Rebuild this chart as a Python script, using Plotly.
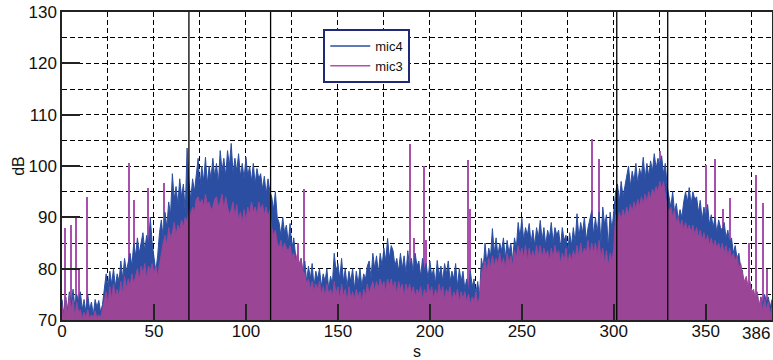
import plotly.graph_objects as go

# time axis (s), 1-second sampling of the level traces
t = list(range(0, 387))

mic4 = [74, 71, 74.5, 72, 75.5, 73, 76, 72.5, 75, 73.5,
        75.5, 72, 74, 71.5, 75, 72, 73.5, 71, 74, 72.5,
        73.8, 71.5, 73, 76, 79, 76.5, 79.5, 77, 80, 76.5,
        79, 77.5, 81.5, 78, 82, 79.5, 81, 83, 80.5, 85,
        82.5, 86, 83, 85.5, 87, 83.5, 86.5, 84.5, 90, 85,
        82, 79.5, 82.5, 87, 89.5, 86, 91, 88, 93, 90.5,
        98.5, 93.5, 96, 92.5, 97.5, 94, 96.5, 91, 103.5, 97,
        93.5, 97.5, 95, 98, 101.5, 96, 100, 97, 101.7, 96.5,
        100, 97.5, 101.5, 98, 100.5, 96.5, 103, 99, 101.5, 98,
        103, 100, 104.4, 98.5, 101.5, 99, 102.4, 98, 100.5, 97.5,
        101.7, 98, 100, 97, 100.5, 96.5, 99.5, 97.5, 98.5, 95.5,
        98, 94.5, 97.5, 95, 94, 91.5, 95, 90, 89, 86.5,
        90, 87, 88.5, 85, 88.8, 84, 86, 82.5, 81, 79,
        82, 78.5, 81.5, 77.5, 80.5, 78, 81, 76.5, 79.5, 78,
        80, 76.5, 79, 77.5, 80, 76, 78.5, 77, 83, 79.5,
        81, 78, 82, 77.5, 80, 76.5, 79.5, 77.5, 80, 76,
        79.5, 77, 80, 76.5, 79, 78, 80.5, 81.5, 78, 83,
        80, 82.5, 79, 83, 80.5, 84, 81.5, 85.9, 82, 84.5,
        83.5, 80.5, 82, 79.5, 83, 80, 82.5, 79, 83.5, 80,
        82, 79, 83, 80.5, 81.5, 78.5, 82, 79.5, 81, 78,
        81.5, 78.5, 80, 77, 81.6, 78.5, 80.5, 77.5, 81, 79,
        81.5, 77.5, 79.5, 78, 81, 76.5, 80, 77.5, 79.5, 76,
        78, 75.5, 79.6, 76.5, 78, 75, 77.5, 74.5, 82, 80,
        85, 81, 84, 82.5, 87.8, 83, 86, 82.5, 85, 83.5,
        86, 82, 85.5, 83, 85, 81.5, 86, 84, 89, 86,
        89.8, 85.5, 88, 86.5, 88.8, 85, 87.5, 84.5, 88, 86,
        89.4, 85.5, 88, 84.5, 87.5, 86, 89, 85, 88, 86.5,
        87.5, 84, 88, 85.5, 86.5, 83.5, 87, 84.5, 88, 85,
        90.7, 86, 89, 87, 90, 85.5, 88, 89.5, 91.3, 86.5,
        90, 87, 91, 85, 92, 88.5, 90.5, 84, 91, 87.5,
        92, 95, 96.5, 93, 97, 94, 96, 98.5, 100, 96,
        99, 97, 100.5, 96.5, 99.5, 98, 101.7, 97.5, 100.5, 98,
        101, 99, 102.4, 99.5, 101.5, 100, 102, 98.5, 100.5, 96,
        94, 92, 95, 91, 92.7, 89.5, 91.5, 90, 93, 95,
        93, 95.8, 92.5, 95, 93.5, 94, 91, 93.3, 89.5, 92,
        90, 92.5, 88.5, 90.5, 88, 90, 87, 89.5, 88, 87.5,
        89, 86, 87.5, 85, 86, 83, 84.5, 82, 83, 80,
        79.6, 72.8, 77, 75, 76, 73, 75, 74, 75, 72.5,
        74.5, 73, 75, 73.5, 74.5, 72.5, 74]

mic3 = [73, 70.5, 74.5, 71, 75, 72, 74, 70.5, 73.5, 71.5,
        72, 70.3, 71.5, 70.5, 72, 70.2, 71, 70.5, 71.8, 70.4,
        71, 70.5, 72, 74, 75.5, 73, 76.5, 74, 77, 74.5,
        76, 74.5, 77.5, 75, 78.5, 76, 78, 76.5, 79, 77,
        78.5, 80, 77.5, 80.5, 79, 81, 78, 80.5, 79.5, 81,
        79, 80.5, 78.5, 81, 83, 85, 86.5, 84.5, 88, 86,
        87, 89, 86.5, 88.5, 87.5, 89.5, 88, 90, 89, 91.5,
        90.5, 92, 91, 93.5, 94, 92.5, 93.5, 92, 94.5, 92.5,
        93, 91.5, 92, 93.5, 94, 92, 93, 94.5, 91.5, 94,
        92, 90.5, 91.5, 93, 90, 92.5, 89.5, 91, 89, 91.5,
        89, 92, 90.5, 93, 91, 92, 90.5, 93, 91.5, 92.5,
        90.5, 92, 90, 91.5, 88, 86.5, 87.5, 85, 84, 85.5,
        83.5, 85, 84, 83.5, 84.5, 82.5, 83, 81.5, 83, 81,
        82, 79.5, 79, 77, 78, 76, 77.5, 75.5, 77, 76,
        77.5, 75, 76.5, 74.5, 77, 75, 76, 74.5, 77.5, 75,
        76.5, 74, 77, 74.5, 76, 73.5, 76.5, 74, 75.5, 74,
        76, 74.5, 75.5, 73.5, 76, 74.5, 77, 75, 76.5, 77.5,
        75.5, 77.5, 76, 78, 76.5, 77.5, 75.5, 78, 76.5, 78,
        76, 77.5, 75, 77.5, 76, 77, 74.5, 77, 75.5, 77,
        75, 76.5, 74.5, 76, 75, 76.5, 74, 76, 74.5, 77,
        75, 76.5, 74, 76, 74.5, 77, 75, 76.5, 74, 76,
        75, 76.5, 73.5, 75.5, 74.5, 76, 73.5, 75.5, 74, 75.5,
        73.5, 75, 73, 74.5, 73.5, 75.5, 73, 74.5, 79, 80.5,
        81.5, 79.5, 82, 80, 82.5, 80.5, 82, 81, 83, 80.5,
        82, 80, 83, 81, 82.5, 80.5, 83.5, 82, 84.5, 82.5,
        84, 82, 84.5, 81.5, 84, 82, 83.5, 82, 84.5, 82.5,
        84.5, 82, 84, 82.5, 83.5, 81.5, 84, 82, 84.5, 82.5,
        83.5, 81, 83, 81.5, 84, 81, 83, 81.5, 83.5, 82,
        84.5, 82, 85, 82.5, 84, 83, 85.5, 82.5, 85, 83,
        85, 82.5, 85.5, 82, 84, 81, 83.5, 80.5, 83, 81.5,
        84, 90.5, 88.5, 91, 89.5, 91.5, 90, 92, 90.5, 92.5,
        91, 93, 91.5, 93.5, 92, 94, 92.5, 94.5, 93, 95,
        93.5, 95.5, 94.5, 96, 95, 97, 95.5, 97, 94, 92,
        91, 92, 90, 91.5, 89, 90, 88, 89.5, 87.5, 89,
        87.5, 88.5, 87, 88.5, 86.5, 88, 86, 87.5, 85.5, 87,
        85, 86.5, 84.5, 86, 84, 85.5, 84, 85, 83.5, 85,
        83, 84.5, 82.5, 84, 82, 83, 81.5, 82.5, 80, 81,
        79, 77.5, 78.5, 76.5, 77.5, 75.5, 76, 74, 75.5, 72.5,
        74.5, 71.5, 74, 72, 73.5, 71, 72.5]

# short impulsive peaks in mic3 (time s, level dB)
spike_t = [1.5, 5, 7.5, 9.5, 13.5, 36.5, 39, 47, 55.5, 128.5,
           131.5, 189.4, 191.5, 196.8, 198, 221, 222, 288.5, 289.5, 292,
           325, 350.4, 355.3, 359.6, 363.4, 373.7, 377.5, 381.3, 383.6]
spike_db = [88, 88.5, 90, 80, 94, 100.5, 93.3, 95.8, 96.6, 85,
            95.5, 104.2, 86, 100, 85.5, 101.2, 91.7, 105.2, 87, 101.3,
            103, 100.1, 101.3, 91.7, 93.7, 85, 98.2, 92.7, 80]

# event markers (s)
events = [69, 113.4, 301.6, 329.3]

x_ticks = [0, 50, 100, 150, 200, 250, 300, 350, 386]
x_end = 386
y_ticks = [70, 80, 90, 100, 110, 120, 130]

BLUE = "#2B4EA2"
MAG = "#9A4596"
SPIKE = "#A94FAE"

fig = go.Figure()
fig.add_trace(go.Scatter(x=t, y=mic4, mode="lines", fill="tozeroy",
                         line=dict(color=BLUE, width=1), fillcolor=BLUE,
                         showlegend=False, hoverinfo="skip"))
fig.add_trace(go.Scatter(x=t, y=mic3, mode="lines", fill="tozeroy",
                         line=dict(color=MAG, width=1), fillcolor=MAG,
                         showlegend=False, hoverinfo="skip"))
fig.add_trace(go.Bar(x=spike_t, y=spike_db, width=0.8,
                     marker=dict(color=SPIKE, line=dict(width=0)),
                     showlegend=False, hoverinfo="skip"))
# legend entries
fig.add_trace(go.Scatter(x=[None], y=[None], mode="lines", name="mic4",
                         line=dict(color=BLUE, width=1.5)))
fig.add_trace(go.Scatter(x=[None], y=[None], mode="lines", name="mic3",
                         line=dict(color="#B050B5", width=1.5)))

for e in events:
    fig.add_shape(type="line", x0=e, x1=e, y0=0, y1=1, xref="x", yref="paper",
                  line=dict(color="black", width=1.3), layer="above")

# end-of-record label, kept inside the page (right-aligned at its tick)
x_labels = [str(v) for v in x_ticks[:-1]] + [""]
fig.add_annotation(x=x_end, y=0, xref="x", yref="paper", text=str(x_end),
                   showarrow=False, xanchor="right", yanchor="top", yshift=-2,
                   font=dict(size=17, color="#111"))

fig.update_layout(
    width=773, height=360,
    margin=dict(l=62, r=1, t=12, b=40),
    paper_bgcolor="white", plot_bgcolor="white",
    font=dict(family="Liberation Sans, Arial, sans-serif", color="#111"),
    bargap=0,
    legend=dict(x=0.368, y=0.945, xanchor="left", yanchor="top",
                bgcolor="white", bordercolor="#1E2A78", borderwidth=2,
                font=dict(size=13, color="#111"), tracegroupgap=0,
                itemwidth=40),
)
fig.update_xaxes(
    range=[0, 386], tickvals=x_ticks, ticktext=x_labels,
    ticks="inside", ticklen=16, tickwidth=1.5, tickcolor="#222",
    tickfont=dict(size=17), automargin=False, ticklabelstandoff=-5,
    showline=True, linecolor="#222", linewidth=1.5, mirror=True,
    showgrid=False, zeroline=False,
    minor=dict(dtick=25, tick0=0, showgrid=True, gridcolor="black",
               griddash="5px,3px", gridwidth=1.2, ticks=""),
    title=dict(text="s", font=dict(size=16), standoff=9),
)
fig.update_yaxes(
    range=[70, 130], tickvals=y_ticks, automargin=False,
    ticks="inside", ticklen=18, tickwidth=1.5, tickcolor="#222",
    tickfont=dict(size=17),
    showline=True, linecolor="#222", linewidth=1.5, mirror=True,
    showgrid=True, gridcolor="black", griddash="5px,3px", gridwidth=1.2,
    zeroline=False,
    minor=dict(dtick=5, tick0=0, showgrid=True, gridcolor="black",
               griddash="5px,3px", gridwidth=1.2, ticks=""),
    title=dict(text="dB", font=dict(size=16), standoff=0),
)

fig.write_html("out.html")
